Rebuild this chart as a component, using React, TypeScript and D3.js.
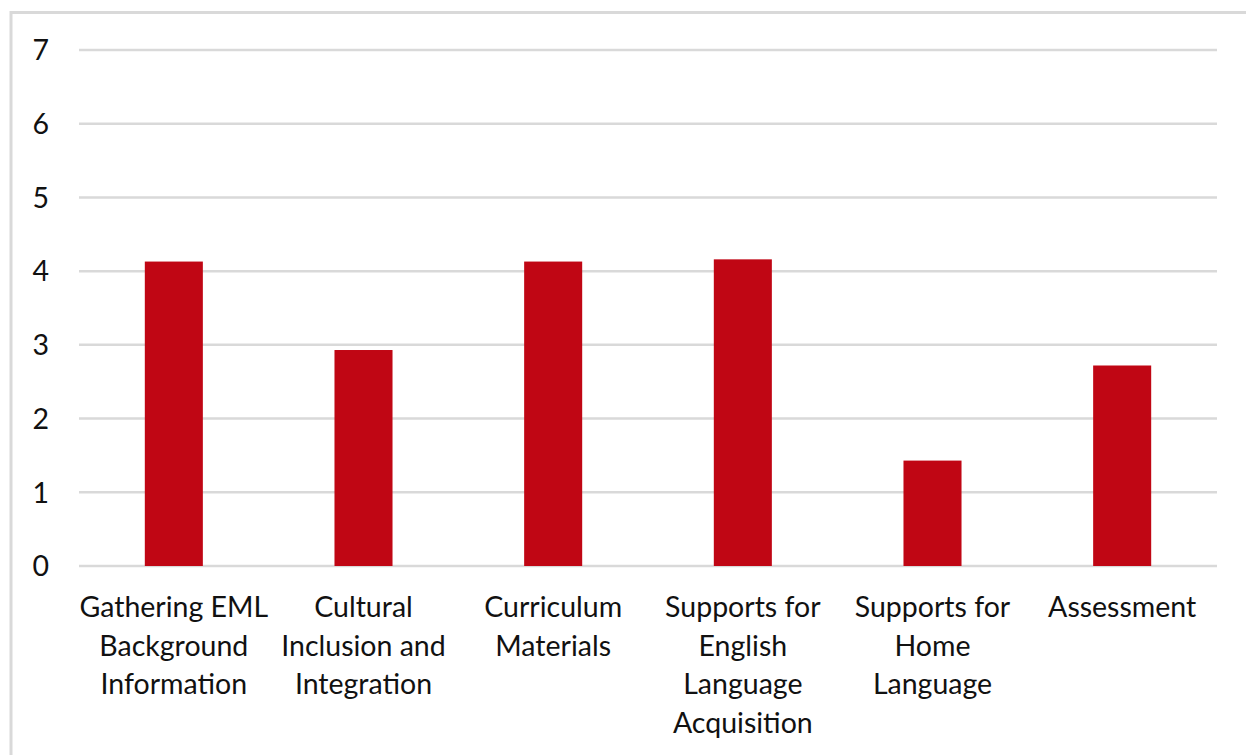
import React from "react"
import * as d3 from "d3"

const categories = [
  ["Gathering EML", "Background", "Information"],
  ["Cultural", "Inclusion and", "Integration"],
  ["Curriculum", "Materials"],
  ["Supports for", "English", "Language", "Acquisition"],
  ["Supports for", "Home", "Language"],
  ["Assessment"],
]
const values = [4.13, 2.93, 4.13, 4.16, 1.43, 2.72]
const yTicks = [0, 1, 2, 3, 4, 5, 6, 7]

const width = 1246
const height = 755
const margin = { top: 50, right: 29, bottom: 188, left: 79 }
const font = "Lato, 'Open Sans', sans-serif"
const fontSize = 28.5

export default function App() {
  const x = d3
    .scaleBand<number>()
    .domain(categories.map((_, i) => i))
    .range([margin.left, width - margin.right])
    .paddingInner(0.694)
    .paddingOuter(0.347)

  const y = d3
    .scaleLinear()
    .domain([0, 7])
    .range([height - margin.bottom - 1, margin.top])

  return (
    <svg
      width={width}
      height={height}
      style={{ position: "absolute", left: 0, top: 0, background: "#fff" }}
    >
      <rect
        x={11}
        y={12.5}
        width={width + 20}
        height={height + 20}
        fill="none"
        stroke="#d9d9d9"
        strokeWidth={3}
      />
      {yTicks.map(t => (
        <g key={t}>
          <line
            x1={margin.left}
            x2={width - margin.right}
            y1={y(t)}
            y2={y(t)}
            stroke="#d9d9d9"
            strokeWidth={2.5}
          />
          <text
            x={49}
            y={y(t)}
            dy="0.36em"
            textAnchor="end"
            fontFamily={font}
            fontSize={fontSize}
            fill="#111"
          >
            {t}
          </text>
        </g>
      ))}
      {values.map((v, i) => (
        <rect
          key={i}
          x={x(i)}
          y={y(v)}
          width={x.bandwidth()}
          height={y(0) - y(v)}
          fill="#c00614"
        />
      ))}
      {categories.map((lines, i) => {
        const cx = (x(i) as number) + x.bandwidth() / 2
        return (
          <text
            key={i}
            x={cx}
            y={617}
            textAnchor="middle"
            fontFamily={font}
            fontSize={fontSize}
            fill="#111"
          >
            {lines.map((l, j) => (
              <tspan key={j} x={cx} dy={j === 0 ? 0 : 38.5}>
                {l}
              </tspan>
            ))}
          </text>
        )
      })}
    </svg>
  )
}
